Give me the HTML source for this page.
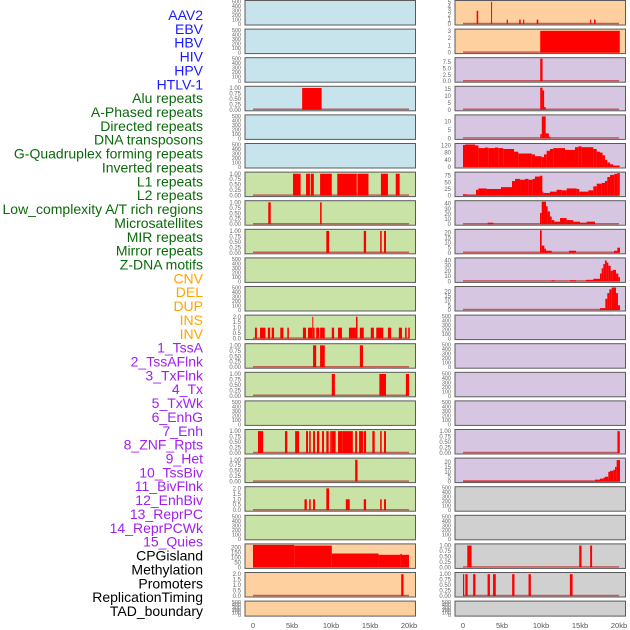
<!DOCTYPE html>
<html><head><meta charset="utf-8"><style>
body{margin:0;background:#fff;width:630px;height:630px;overflow:hidden}
svg{display:block;font-family:"Liberation Sans",sans-serif}
</style></head><body>
<svg id="chart" width="630" height="630"></svg>
<script>
const trackLabels=["AAV2","EBV","HBV","HIV","HPV","HTLV-1","Alu repeats","A-Phased repeats","Directed repeats","DNA transposons","G-Quadruplex forming repeats","Inverted repeats","L1 repeats","L2 repeats","Low_complexity A/T rich regions","Microsatellites","MIR repeats","Mirror repeats","Z-DNA motifs","CNV","DEL","DUP","INS","INV","1_TssA","2_TssAFlnk","3_TxFlnk","4_Tx","5_TxWk","6_EnhG","7_Enh","8_ZNF_Rpts","9_Het","10_TssBiv","11_BivFlnk","12_EnhBiv","13_ReprPC","14_ReprPCWk","15_Quies","CPGisland","Methylation","Promoters","ReplicationTiming","TAD_boundary"];
const labelColors=["#1a1aff","#1a1aff","#1a1aff","#1a1aff","#1a1aff","#1a1aff","#0a6a0a","#0a6a0a","#0a6a0a","#0a6a0a","#0a6a0a","#0a6a0a","#0a6a0a","#0a6a0a","#0a6a0a","#0a6a0a","#0a6a0a","#0a6a0a","#0a6a0a","#ffa500","#ffa500","#ffa500","#ffa500","#ffa500","#a020f0","#a020f0","#a020f0","#a020f0","#a020f0","#a020f0","#a020f0","#a020f0","#a020f0","#a020f0","#a020f0","#a020f0","#a020f0","#a020f0","#a020f0","#000","#000","#000","#000","#000"];
const xTickValues=[0,5,10,15,20];
const xTickLabels=["0","5kb","10kb","15kb","20kb"];
const emptyTicks=[0,100,200,300,400,500];
const unitTicks=[0,0.25,0.5,0.75,1];
const unitTickLabels=["0.00","0.25","0.50","0.75","1.00"];
const twoTicks=[0,0.5,1,1.5,2];
const twoTickLabels=["0.0","0.5","1.0","1.5","2.0"];

const left3=[[6.3,8.8,1]];
const left6=[[5.13,6.1,1],[6.8,7.3,1],[7.4,7.8,1],[8.6,10.1,1],[10.8,13.3,1],[13.4,14.8,1],[16.4,17.3,1],[18.3,18.8,1]];
const left7=[[1.96,2.27,1],[8.6,8.8,1]];
const left8=[[9.4,9.75,1],[14.2,14.5,1],[16.3,16.5,1],[16.8,17.05,1]];
const left11=[[0.25,0.5,1],[0.9,1.6,1],[1.9,2.2,1],[2.4,2.7,1],[3.5,3.9,1],[4.4,4.6,1],[6.4,6.8,1],[7.05,7.6,1],[7.6,7.7,2],[7.7,7.9,1],[8.1,8.5,1],[8.6,9.2,1],[10.1,10.4,1],[10.9,11.4,1],[12.3,13.2,1],[13.2,13.4,2],[13.7,14.2,1],[15.1,15.5,1],[15.8,16.7,1],[17.3,17.7,1],[18.7,19.1,1],[19.5,19.7,1],[19.9,20.1,1]];
const left12=[[7.7,8.1,1],[8.6,9.2,1],[13.7,14.1,1]];
const left13=[[10.1,10.5,1],[16.2,17.05,1],[19.6,20,1]];
const left15=[[0.64,1.3,1],[4.1,4.4,1],[5.4,5.9,1],[6.8,7.05,1],[7.2,7.4,1],[7.7,7.95,1],[8.2,8.5,1],[8.85,9.1,1],[9.4,9.7,1],[9.9,10.1,1],[10.1,10.6,1],[10.9,11.5,1],[11.5,12.8,1],[13.1,13.35,1],[13.6,14.1,1],[14.2,14.5,1],[15.3,15.6,1],[16.3,16.5,1],[16.8,17.05,1]];
const left16=[[13.1,13.4,1]];
const left17=[[6.6,6.9,1],[7.2,7.4,1],[7.7,7.95,1],[9.4,9.75,2],[11.9,12.4,1],[14.2,14.5,1],[16.3,16.5,1],[16.8,17.05,1]];
const left19=[[0,5.3,225],[5.3,10.1,218],[10.1,16.1,139],[16.1,18.9,126],[18.9,19.1,135],[19.1,20,126]];
const left20=[[19.0,19.3,2]];

const right0=[[1.75,1.95,3],[3.6,3.7,5],[5.6,5.75,1],[7.2,7.4,1],[7.7,7.85,1],[9.45,9.65,1],[16.3,16.45,1],[16.8,17.0,1]];
const right1=[[9.9,20.1,3]];
const right2=[[9.9,10.2,8.8]];
const right3=[[9.9,10.2,16],[10.2,10.4,14],[10.4,10.6,2]];
const right4=[[9.9,10.1,2.5],[10.1,10.6,13],[10.6,11.0,3],[11.0,11.2,1]];
const right5=[[0,0.26,122],[0.26,1.54,125],[1.54,1.97,120],[1.97,2.82,105],[2.82,3.25,108],[3.25,4.1,105],[4.1,4.53,108],[4.53,5.17,105],[5.17,6.54,100],[6.54,7.09,85],[7.09,8.8,75],[8.8,9.23,70],[9.23,10.09,60],[10.09,10.38,55],[10.38,10.73,70],[10.73,11.15,90],[11.15,11.58,100],[11.58,13.08,105],[13.08,14.36,95],[14.36,14.79,110],[14.79,15.21,115],[15.21,16.71,110],[16.71,17.14,100],[17.14,17.56,85],[17.56,17.9,80],[17.9,18.2,65],[18.2,18.5,40],[18.5,18.85,25],[18.85,19.27,15],[19.27,20.1,8]];
const right6=[[0,0.47,5],[0.47,1.67,3],[1.67,1.97,22],[1.97,3.03,27],[3.03,4.87,25],[4.87,6.28,32],[6.28,6.67,55],[6.67,7.31,63],[7.31,7.95,60],[7.95,8.38,63],[8.38,8.93,60],[8.93,9.23,63],[9.23,9.87,72],[9.87,10.17,75],[10.17,10.3,15],[10.3,11.15,10],[11.15,12.0,15],[12.0,12.65,22],[12.65,13.29,20],[13.29,14.57,27],[14.57,14.91,25],[14.91,16.07,15],[16.07,16.71,20],[16.71,17.14,35],[17.14,17.78,45],[17.78,18.2,48],[18.2,18.5,55],[18.5,18.85,70],[18.85,19.4,78],[19.4,19.79,82],[19.79,20.1,85]];
const right7=[[3.16,3.89,3],[9.87,10.09,22],[10.09,10.64,44],[10.64,10.85,35],[10.85,11.15,25],[11.15,11.37,15],[11.37,11.71,8],[11.71,12.44,5],[12.44,13.29,12],[13.29,14.15,8],[14.15,15,5],[15,15.85,3],[15.85,16.92,5]];
const right8=[[9.87,10.09,22],[10.09,10.43,7],[10.43,10.64,4],[10.64,11.37,2],[13.59,14.49,2],[19.36,19.79,2],[19.79,20.13,5]];
const right9=[[11.37,11.75,2],[13.72,14.49,2],[15.77,16.71,3],[16.71,17.56,5],[17.56,17.78,15],[17.78,17.99,25],[17.99,18.2,33],[18.2,18.42,40],[18.42,18.63,36],[18.63,18.93,30],[18.93,19.19,20],[19.19,19.62,22],[19.62,19.91,15],[19.91,20.13,8]];
const right10=[[17.56,18.25,2],[18.25,18.5,12],[18.5,18.76,18],[18.76,19.06,22],[19.06,19.62,24],[19.62,19.87,18],[19.87,20.13,5]];
const right15=[[19.8,20.1,1]];
const right16=[[0,16.92,1],[16.92,17.56,2],[17.56,17.99,3],[17.99,18.2,4],[18.2,18.63,5],[18.63,18.85,10],[18.85,19.27,11],[19.27,19.49,12],[19.49,19.7,15],[19.7,20.13,22]];
const right19=[[0.55,1.1,1],[14.9,15.2,1],[16.3,16.55,1]];
const right20=[[0,0.15,1],[0.3,0.6,1],[1.3,1.6,1],[3.15,3.45,1],[3.85,4.2,1],[6.3,6.6,1],[8.4,8.7,1],[13.7,14.05,1]];

const BLUE="#c7e4ec",GREEN="#c9e2a5",PEACH="#fed09f",LAV="#d6c6e2",GRAY="#d0d0d0";
const leftPanels=[
 [BLUE,null],[BLUE,null],[BLUE,null],[BLUE,left3,1.03,unitTicks,unitTickLabels],[BLUE,null],[BLUE,null],
 [GREEN,left6,1.03,unitTicks,unitTickLabels],[GREEN,left7,1.03,unitTicks,unitTickLabels],[GREEN,left8,1.03,unitTicks,unitTickLabels],
 [GREEN,null],[GREEN,null],[GREEN,left11,2.06,twoTicks,twoTickLabels],[GREEN,left12,1.03,unitTicks,unitTickLabels],
 [GREEN,left13,1.03,unitTicks,unitTickLabels],[GREEN,null],[GREEN,left15,1.03,unitTicks,unitTickLabels],[GREEN,left16,1.03,unitTicks,unitTickLabels],
 [GREEN,left17,2.06,twoTicks,twoTickLabels],[GREEN,null],[PEACH,left19,225,[0,50,100,150,200],["0","50","100","150","200"]],
 [PEACH,left20,2.06,twoTicks,twoTickLabels],[PEACH,null]];
const rightPanels=[
 [PEACH,right0,5.1,[0,1,2,3,4,5],["0","1","2","3","4","5"]],[PEACH,right1,3.1,[0,1,2,3],["0","1","2","3"]],
 [LAV,right2,8.8,[0,2.5,5,7.5],["0.0","2.5","5.0","7.5"]],[LAV,right3,16.3,[0,5,10,15],["0","5","10","15"]],
 [LAV,right4,13.3,[0,5,10],["0","5","10"]],[LAV,right5,125,[0,40,80,120],["0","40","80","120"]],
 [LAV,right6,85,[0,25,50,75],["0","25","50","75"]],[LAV,right7,44,[0,10,20,30,40],["0","10","20","30","40"]],
 [LAV,right8,22,[0,5,10,15,20],["0","5","10","15","20"]],[LAV,right9,43,[0,10,20,30,40],["0","10","20","30","40"]],
 [LAV,right10,24,[0,5,10,15,20],["0","5","10","15","20"]],[LAV,null],[LAV,null],[LAV,null],[LAV,null],
 [LAV,right15,1.03,unitTicks,unitTickLabels],[LAV,right16,23,[0,5,10,15,20],["0","5","10","15","20"]],
 [GRAY,null],[GRAY,null],[GRAY,right19,1.03,unitTicks,unitTickLabels],[GRAY,right20,1.03,unitTicks,unitTickLabels],[GRAY,null]];

const NS="http://www.w3.org/2000/svg";
const svg=document.getElementById('chart');
function mk(tag,attrs,parent){const e=document.createElementNS(NS,tag);for(const k in attrs)e.setAttribute(k,attrs[k]);(parent||svg).appendChild(e);return e;}

trackLabels.forEach((t,i)=>{
 const e=mk('text',{x:203,y:(20+i*13.86).toFixed(1),'text-anchor':'end','font-size':'14',fill:labelColors[i]});
 e.textContent=t;
 
 
});

function drawCol(panels,x0,colName){
 const xs=kb=>x0+8+kb*7.8;
 panels.forEach((p,i)=>{
  const top=0.5+i*28.6, h=(i===21)?15:24.5, bottom=top+h;
  const g=mk('g',{});
  
  
  mk('rect',{x:x0,y:top,width:170.5,height:h,fill:p[0],stroke:'#5a5a5a','stroke-width':1},g);
  const segs=p[1];
  const ymax=segs?p[2]:500, ticks=segs?p[3]:emptyTicks, tl=segs?p[4]:emptyTicks.map(String);
  const ys=v=>bottom-1-v/ymax*(h-2);
  ticks.forEach((t,k)=>{
   const e=mk('text',{x:x0-4,y:(ys(t)+2).toFixed(1),'text-anchor':'end','font-size':(segs?6:5.5),fill:'#666'},g);
   e.textContent=tl[k];
   
   
  });
  if(segs){
   const bl=mk('line',{x1:xs(0),x2:xs(20),y1:bottom-1.5,y2:bottom-1.5,stroke:'#c0403f','stroke-width':1.5,opacity:0.8},g);
   
   
   segs.forEach(s=>{
    const y=ys(s[2]);
    const r=mk('rect',{x:xs(s[0]).toFixed(2),y:y.toFixed(2),width:Math.max(1,xs(s[1])-xs(s[0])).toFixed(2),height:(bottom-1-y).toFixed(2),fill:'#ff0000'},g);
    
    
   });
  }
 });
 xTickValues.forEach((v,k)=>{
  const e=mk('text',{x:xs(v),y:628,'text-anchor':'middle','font-size':7.5,fill:'#555'});
  e.textContent=xTickLabels[k];
  
  
 });
}
drawCol(leftPanels,245,'left');
drawCol(rightPanels,455,'right');
</script>
</body></html>
